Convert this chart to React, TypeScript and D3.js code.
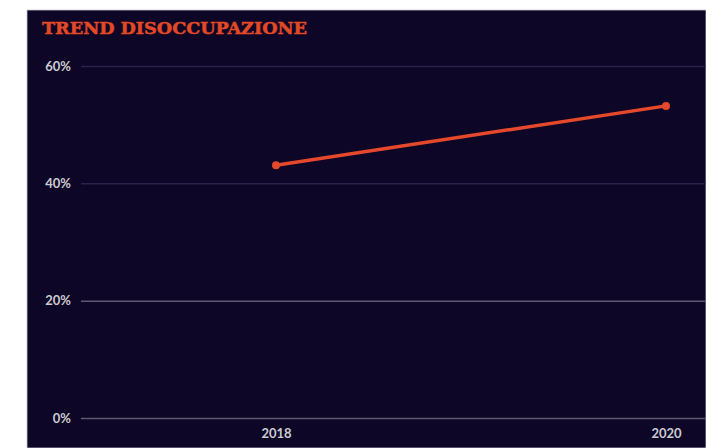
import { useRef, useEffect } from 'react';
import * as d3 from 'd3';

const years = [2018, 2020];
const rates = [43.1, 53.2];
const yTicks = [0, 20, 40, 60];
const title = 'TREND DISOCCUPAZIONE';

const W = 706;
const H = 448;
const panel = { left: 27, top: 10 };
const margin = { top: 66, left: 81, bottom: 30 };

const App = () => {
    const ref = useRef<SVGSVGElement>(null);

    useEffect(() => {
        if (!ref.current) return;
        const svg = d3.select(ref.current);
        svg.selectAll('*').remove();

        svg.append('rect')
            .attr('width', W).attr('height', H)
            .attr('fill', '#ffffff');

        svg.append('rect')
            .attr('x', panel.left).attr('y', panel.top)
            .attr('width', W - panel.left).attr('height', H - panel.top)
            .attr('fill', '#0d0627')
            .attr('stroke', '#c9c9d0')
            .attr('stroke-width', 0.8);

        svg.append('text')
            .attr('x', 42).attr('y', 34)
            .attr('fill', '#e24a26')
            .attr('stroke', '#e24a26')
            .attr('stroke-width', 0.5)
            .attr('font-family', '"DejaVu Serif", serif')
            .attr('font-weight', 'bold')
            .attr('font-size', 17.5)
            .attr('textLength', 265)
            .attr('lengthAdjust', 'spacingAndGlyphs')
            .text(title);

        const y = d3.scaleLinear().domain([0, 60]).range([H - margin.bottom, margin.top]);
        const x = d3.scaleLinear().domain([2017, 2020]).range([margin.left, 666]);

        // y grid + labels
        const yAxis = d3.axisLeft(y)
            .tickValues(yTicks)
            .tickSize(-(W - margin.left))
            .tickPadding(10)
            .tickFormat(d => `${d}%`);
        const yg = svg.append('g')
            .attr('transform', `translate(${margin.left},0)`)
            .call(yAxis);
        yg.select('.domain').remove();
        yg.selectAll('.tick line')
            .attr('stroke', (d: any) => (d >= 40 ? '#28234a' : '#5d5a72'))
            .attr('stroke-width', 1.5);
        yg.selectAll('.tick text')
            .attr('fill', '#cbcbd0')
            .attr('font-family', 'Lato, sans-serif')
            .attr('font-weight', 'bold')
            .attr('font-size', 13);

        // x labels
        const xAxis = d3.axisBottom(x).tickValues(years).tickSize(0).tickPadding(11).tickFormat(d3.format('d'));
        const xg = svg.append('g')
            .attr('transform', `translate(0,${H - margin.bottom})`)
            .call(xAxis);
        xg.select('.domain').remove();
        xg.selectAll('.tick text')
            .attr('fill', '#cbcbd0')
            .attr('font-family', 'Lato, sans-serif')
            .attr('font-weight', 'bold')
            .attr('font-size', 13);

        const pts = years.map((yr, i) => [x(yr), y(rates[i])] as [number, number]);
        svg.append('path')
            .attr('d', d3.line()(pts))
            .attr('fill', 'none')
            .attr('stroke', '#e5482a')
            .attr('stroke-width', 3.5);
        svg.selectAll('circle.pt')
            .data(pts)
            .enter()
            .append('circle')
            .attr('class', 'pt')
            .attr('cx', d => d[0]).attr('cy', d => d[1])
            .attr('r', 4)
            .attr('fill', '#e5482a');
    }, []);

    return (
        <svg
            ref={ref}
            width={W}
            height={H}
            style={{ position: 'absolute', left: 0, top: 0, display: 'block' }}
        ></svg>
    );
};

export default App;
